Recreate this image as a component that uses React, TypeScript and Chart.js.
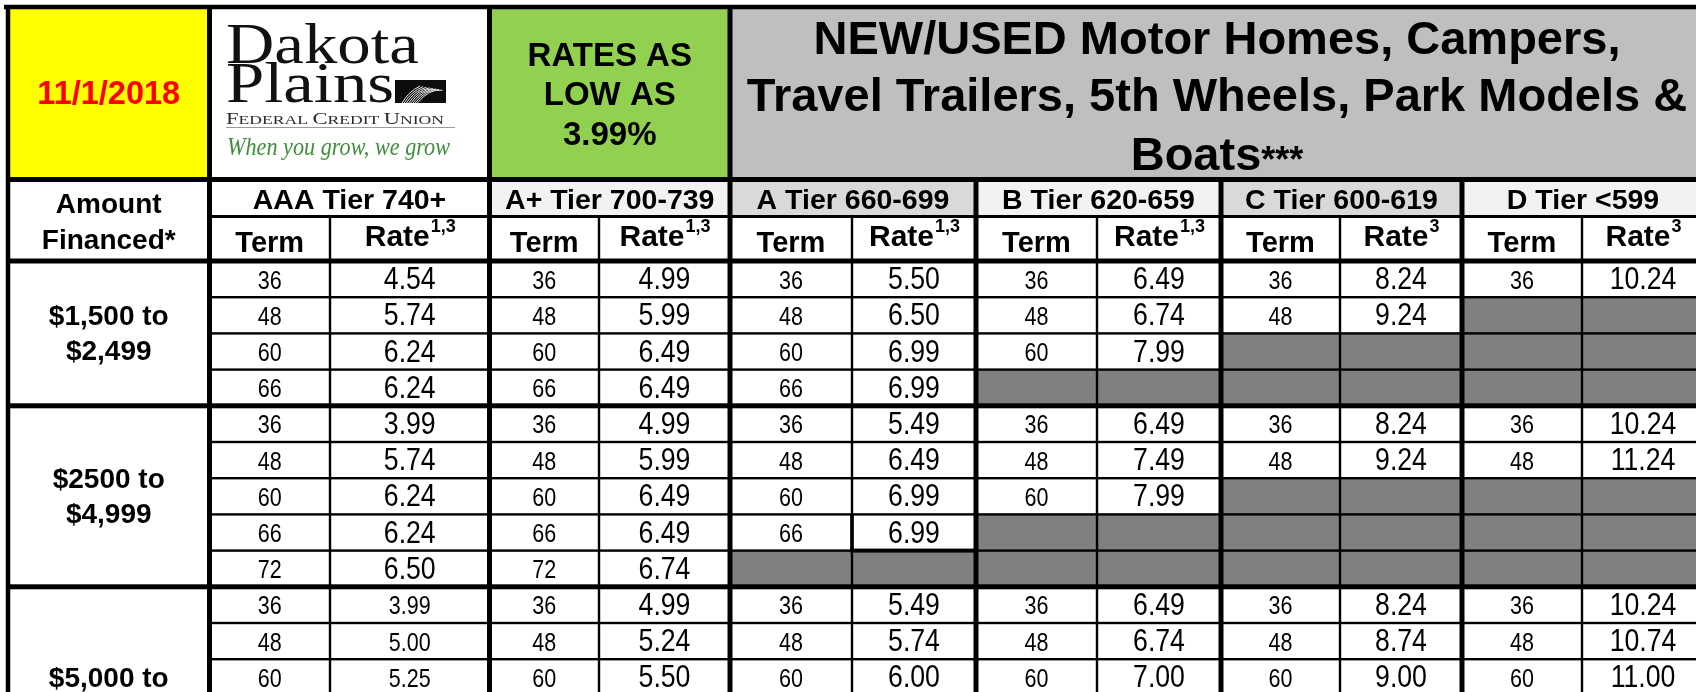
import React, { useEffect, useRef } from "react";
import { Chart, registerables } from "chart.js";

Chart.register(...registerables);

// ---------------- DATA ----------------
const headerDate = "11/1/2018";
const promoLines = ["RATES AS", "LOW AS", "3.99%"];
const titleLines = ["NEW/USED Motor Homes, Campers,", "Travel Trailers, 5th Wheels, Park Models &", "Boats"];
const titleSuffix = "***";
const amountHeader = ["Amount", "Financed*"];
const tierNames = ["AAA Tier 740+", "A+ Tier 700-739", "A Tier 660-699", "B Tier 620-659", "C Tier 600-619", "D Tier <599"];
const rateNotes = ["1,3", "1,3", "1,3", "1,3", "3", "3"];
const termHeader = "Term";
const rateHeader = "Rate";
const amountLabels = [["$1,500 to", "$2,499"], ["$2500 to", "$4,999"], ["$5,000 to"]];
const groupTerms = [[36, 48, 60, 66], [36, 48, 60, 66, 72], [36, 48, 60]];
const ratesAAA = [[4.54, 5.74, 6.24, 6.24], [3.99, 5.74, 6.24, 6.24, 6.5], [3.99, 5.0, 5.25]];
const ratesAPlus = [[4.99, 5.99, 6.49, 6.49], [4.99, 5.99, 6.49, 6.49, 6.74], [4.99, 5.24, 5.5]];
const ratesA = [[5.5, 6.5, 6.99, 6.99], [5.49, 6.49, 6.99, 6.99, null], [5.49, 5.74, 6.0]];
const ratesB = [[6.49, 6.74, 7.99, null], [6.49, 7.49, 7.99, null, null], [6.49, 6.74, 7.0]];
const ratesC = [[8.24, 9.24, null, null], [8.24, 9.24, null, null, null], [8.24, 8.74, 9.0]];
const ratesD = [[10.24, null, null, null], [10.24, 11.24, null, null, null], [10.24, 10.74, 11.0]];
const tierRates = [ratesAAA, ratesAPlus, ratesA, ratesB, ratesC, ratesD];
const logoName = ["Dakota", "Plains"];
const logoSub = [["F", 1], ["EDERAL ", 0], ["C", 1], ["REDIT ", 0], ["U", 1], ["NION", 0]] as [string, number][];
const logoTagline = "When you grow, we grow";

// ---------------- LAYOUT / STYLE ----------------
const W = 1696;
const H = 692;
const COL = [8, 209.5, 330, 489.5, 599, 730, 852, 976, 1097, 1221, 1340, 1462, 1582, 1704];
const TOP = 7;
const HEAD_BOTTOM = 179.5;
const TIER_BOTTOM = 216.5;
const TERM_BOTTOM = 261;
const ROW_H = 36.2;
const GROUP_SPANS = [4, 5, 6];
const TIER_BG = ["#ffffff", "#f2f2f2", "#d9d9d9", "#f2f2f2", "#d9d9d9", "#f2f2f2"];
const EMPTY_BG = "#808080";
const SMALL_RATE_GROUPS = [[2, 0]]; // [group, tier] drawn with the small font
const OUTLINED_CELL = [1, 2, 3]; // [group, tier, row]
const NARROW = 0.86;
const SANS = '"Liberation Sans", Arial, Helvetica, sans-serif';
const SERIF = '"Liberation Serif", "Times New Roman", serif';

function groupStart(g: number) {
  let y = TERM_BOTTOM;
  for (let i = 0; i < g; i++) y += GROUP_SPANS[i] * ROW_H;
  return y;
}
const termCenter = (t: number) => (COL[2 * t + 1] + COL[2 * t + 2]) / 2;
const rateCenter = (t: number) => (COL[2 * t + 2] + COL[2 * t + 3]) / 2;
const rowCenter = (g: number, r: number) => groupStart(g) + (r + 0.5) * ROW_H;

const tablePlugin = {
  id: "rateTable",
  beforeDraw(chart: any) {
    const { ctx } = chart;
    ctx.save();
    ctx.fillStyle = "#ffffff";
    ctx.fillRect(0, 0, chart.width, chart.height);
    ctx.restore();
  },
  afterDraw(chart: any) {
    const { ctx } = chart;
    const sx = chart.scales.x;
    const sy = chart.scales.y;
    const X = (v: number) => sx.getPixelForValue(v);
    const Y = (v: number) => sy.getPixelForValue(v);
    const END = COL[COL.length - 1];

    const rect = (x0: number, y0: number, x1: number, y1: number, c: string) => {
      ctx.fillStyle = c;
      ctx.fillRect(X(x0), Y(y0), X(x1) - X(x0), Y(y1) - Y(y0));
    };
    const hline = (x0: number, x1: number, yc: number, w: number) => {
      ctx.fillStyle = "#000";
      ctx.fillRect(X(x0) - 2, Y(yc) - w / 2, X(x1) - X(x0) + 4, w);
    };
    const vline = (xc: number, y0: number, y1: number, w: number) => {
      ctx.fillStyle = "#000";
      ctx.fillRect(X(xc) - w / 2, Y(y0), w, Y(y1) - Y(y0));
    };
    const measure = (s: string, font: string) => {
      ctx.save();
      ctx.font = font;
      const m = ctx.measureText(s).width;
      ctx.restore();
      return m;
    };
    const text = (s: string, x: number, y: number, font: string, color: string, align = "center", scaleX = 1) => {
      ctx.save();
      ctx.font = font;
      ctx.fillStyle = color;
      ctx.textBaseline = "alphabetic";
      ctx.textAlign = "left";
      const w = ctx.measureText(s).width * scaleX;
      const left = align === "center" ? X(x) - w / 2 : align === "right" ? X(x) - w : X(x);
      ctx.translate(left, Y(y));
      ctx.scale(scaleX, 1);
      ctx.fillText(s, 0, 0);
      ctx.restore();
    };
    const fitText = (s: string, x: number, y: number, font: string, color: string, width: number) => {
      text(s, x, y, font, color, "left", width / measure(s, font));
    };

    // ---- backgrounds ----
    rect(COL[0], TOP, COL[1], HEAD_BOTTOM, "#ffff00");
    rect(COL[1], TOP, COL[3], HEAD_BOTTOM, "#ffffff");
    rect(COL[3], TOP, COL[5], HEAD_BOTTOM, "#92d050");
    rect(COL[5], TOP, END, HEAD_BOTTOM, "#bfbfbf");
    rect(COL[0], HEAD_BOTTOM, COL[1], TERM_BOTTOM, "#ffffff");
    tierNames.forEach((_, t) => {
      rect(COL[2 * t + 1], HEAD_BOTTOM, COL[2 * t + 3], TIER_BOTTOM, TIER_BG[t]);
      rect(COL[2 * t + 1], TIER_BOTTOM, COL[2 * t + 3], TERM_BOTTOM, "#ffffff");
    });
    groupTerms.forEach((terms, g) => {
      const g0 = groupStart(g);
      rect(COL[0], g0, COL[1], g0 + GROUP_SPANS[g] * ROW_H, "#ffffff");
      terms.forEach((_, r) => {
        tierNames.forEach((__, t) => {
          const v = tierRates[t][g][r];
          rect(COL[2 * t + 1], g0 + r * ROW_H, COL[2 * t + 3], g0 + (r + 1) * ROW_H, v == null ? EMPTY_BG : "#ffffff");
        });
      });
    });

    // ---- grid lines ----
    hline(COL[0] - 2, END, TOP, 4.5);
    vline(COL[0], TOP - 2, H + 5, 4.5);
    hline(COL[0], END, HEAD_BOTTOM, 5);
    hline(COL[1], END, TIER_BOTTOM, 3);
    hline(COL[0], END, TERM_BOTTOM, 5);
    groupTerms.forEach((_, g) => {
      const g0 = groupStart(g);
      for (let r = 1; r < GROUP_SPANS[g]; r++) hline(COL[1], END, g0 + r * ROW_H, 2.4);
      hline(COL[0], END, g0 + GROUP_SPANS[g] * ROW_H, 5);
    });
    [1, 3, 5].forEach((i) => vline(COL[i], TOP, H + 5, 5));
    [7, 9, 11].forEach((i) => vline(COL[i], HEAD_BOTTOM, H + 5, 5));
    [2, 4, 6, 8, 10, 12].forEach((i) => vline(COL[i], TIER_BOTTOM, H + 5, 2.4));
    {
      const [g, t, r] = OUTLINED_CELL;
      const g0 = groupStart(g);
      vline(COL[2 * t + 2], g0 + r * ROW_H, g0 + (r + 1) * ROW_H, 3.6);
      hline(COL[2 * t + 2], COL[2 * t + 3], g0 + (r + 1) * ROW_H, 4);
    }

    // ---- header texts ----
    text(headerDate, (COL[0] + COL[1]) / 2, 104, `bold 32.5px ${SANS}`, "#ff0000");
    const promoBase = [66, 105, 145];
    promoLines.forEach((s, i) => text(s, (COL[3] + COL[5]) / 2, promoBase[i], `bold 33px ${SANS}`, "#000"));
    const titleX = (COL[5] + END) / 2;
    const titleBase = [54, 111, 170];
    text(titleLines[0], titleX, titleBase[0], `bold 47px ${SANS}`, "#000");
    text(titleLines[1], titleX, titleBase[1], `bold 47px ${SANS}`, "#000");
    {
      const f1 = `bold 47px ${SANS}`;
      const f2 = `bold 36px ${SANS}`;
      const w1 = measure(titleLines[2], f1);
      const w2 = measure(titleSuffix, f2);
      const left = titleX - (w1 + w2) / 2;
      text(titleLines[2], left, titleBase[2], f1, "#000", "left");
      text(titleSuffix, left + w1, titleBase[2] + 2, f2, "#000", "left");
    }

    // ---- logo ----
    fitText(logoName[0], 226, 63, `56px ${SERIF}`, "#111", 193);
    fitText(logoName[1], 226, 102, `56px ${SERIF}`, "#111", 168);
    rect(395, 80, 446, 103, "#0d0d0d");
    ctx.save();
    ctx.strokeStyle = "#ffffff";
    ctx.lineWidth = 0.9;
    for (let i = 0; i < 8; i++) {
      ctx.beginPath();
      ctx.moveTo(X(402 + i * 2.2), Y(103));
      ctx.quadraticCurveTo(X(408 + i * 3), Y(92 - i * 0.5), X(420 + i * 3.2), Y(86 + i * 0.6));
      ctx.stroke();
    }
    ctx.restore();
    {
      let total = 0;
      logoSub.forEach(([s, big]) => (total += measure(s, `${big ? 16 : 12.5}px ${SERIF}`)));
      const k = 218 / total;
      let x = 226;
      logoSub.forEach(([s, big]) => {
        const font = `${big ? 16 : 12.5}px ${SERIF}`;
        text(s, x, 124, font, "#2b2b2b", "left", k);
        x += measure(s, font) * k;
      });
    }
    rect(226, 127, 455, 128, "#9a9a9a");
    fitText(logoTagline, 227, 155, `italic 25px ${SERIF}`, "#3f8f3a", 223);

    // ---- column headers ----
    const ax = (COL[0] + COL[1]) / 2;
    text(amountHeader[0], ax, 213, `bold 28px ${SANS}`, "#000");
    text(amountHeader[1], ax, 249, `bold 28px ${SANS}`, "#000");
    tierNames.forEach((name, t) => {
      text(name, (COL[2 * t + 1] + COL[2 * t + 3]) / 2, 209, `bold 28.5px ${SANS}`, "#000");
      text(termHeader, termCenter(t), 252, `bold 29px ${SANS}`, "#000");
      const fR = `bold 30px ${SANS}`;
      const fS = `bold 18px ${SANS}`;
      const w1 = measure(rateHeader, fR);
      const w2 = measure(rateNotes[t], fS);
      const left = rateCenter(t) - (w1 + w2) / 2;
      text(rateHeader, left, 246, fR, "#000", "left");
      text(rateNotes[t], left + w1 + 1, 232, fS, "#000", "left");
    });

    // ---- amount labels ----
    amountLabels.forEach((lines, g) => {
      const gc = groupStart(g) + (GROUP_SPANS[g] * ROW_H) / 2;
      lines.forEach((s, i) => {
        const base = gc + (i - 0.5) * 35 + 9.5;
        text(s, ax, base, `bold 28px ${SANS}`, "#000");
      });
    });

    // ---- data cells from the dataset elements ----
    const meta = chart.getDatasetMeta(0);
    const raw = chart.data.datasets[0].data as any[];
    meta.data.forEach((el: any, i: number) => {
      const d = raw[i];
      const isSmall = d.kind === "term" || d.small;
      const font = isSmall ? `25px ${SANS}` : `31px ${SANS}`;
      const w = measure(d.label, font) * NARROW;
      ctx.save();
      ctx.font = font;
      ctx.fillStyle = "#000";
      ctx.textAlign = "left";
      ctx.textBaseline = "alphabetic";
      ctx.translate(el.x - w / 2, el.y + (isSmall ? 9.5 : 10));
      ctx.scale(NARROW, 1);
      ctx.fillText(d.label, 0, 0);
      ctx.restore();
    });
  },
};

export default function App() {
  const ref = useRef<HTMLCanvasElement>(null);
  useEffect(() => {
    document.body.style.margin = "0";
    document.body.style.overflow = "hidden";
    const canvas = ref.current!;
    const points: any[] = [];
    groupTerms.forEach((terms, g) => {
      terms.forEach((term, r) => {
        tierRates.forEach((rates, t) => {
          const v = rates[g][r];
          if (v == null) return;
          const small = SMALL_RATE_GROUPS.some(([gg, tt]) => gg === g && tt === t);
          points.push({ x: termCenter(t), y: rowCenter(g, r), label: String(term), kind: "term" });
          points.push({ x: rateCenter(t), y: rowCenter(g, r), label: v.toFixed(2), kind: "rate", small });
        });
      });
    });
    const chart = new Chart(canvas, {
      type: "scatter",
      data: { datasets: [{ data: points, pointRadius: 0, pointHoverRadius: 0, showLine: false }] },
      options: {
        animation: false,
        responsive: false,
        maintainAspectRatio: false,
        devicePixelRatio: 1,
        events: [],
        layout: { padding: 0 },
        plugins: { legend: { display: false }, tooltip: { enabled: false } },
        scales: {
          x: { type: "linear", min: 0, max: W, display: false },
          y: { type: "linear", min: 0, max: H, reverse: true, display: false },
        },
      } as any,
      plugins: [tablePlugin],
    });
    return () => chart.destroy();
  }, []);
  return (
    <div style={{ position: "fixed", left: 0, top: 0, width: W, height: H, background: "#fff", overflow: "hidden" }}>
      <canvas ref={ref} width={W} height={H} style={{ display: "block", width: W, height: H }} />
    </div>
  );
}
